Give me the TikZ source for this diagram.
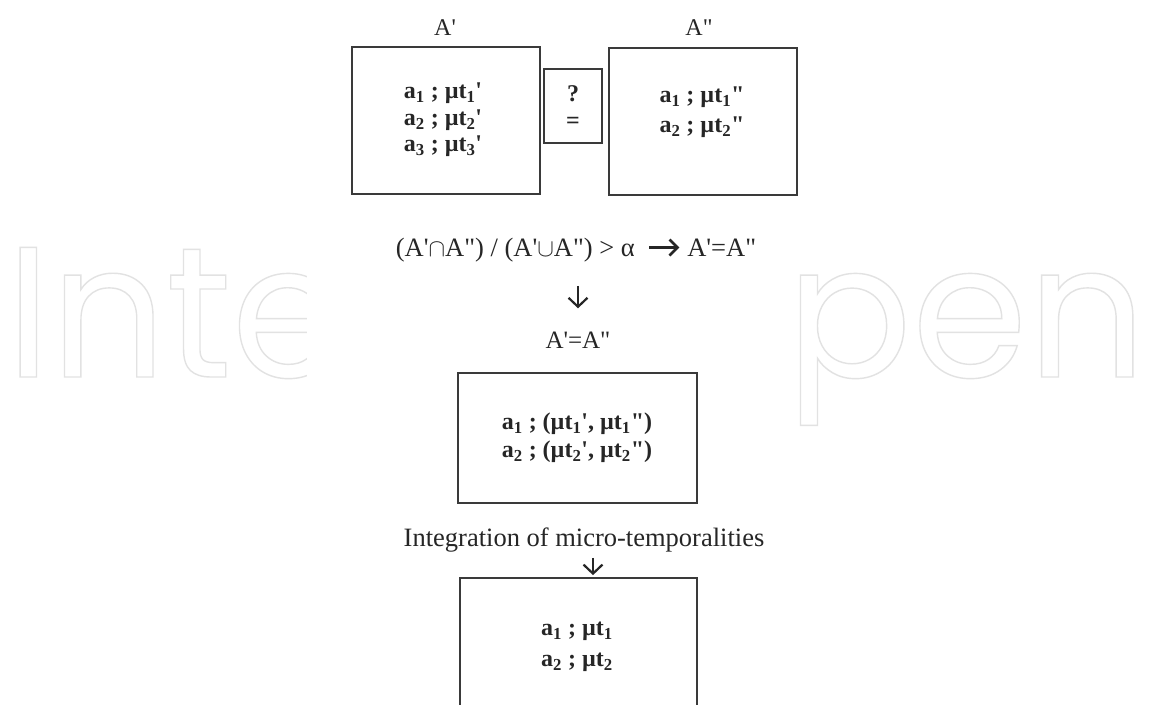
\documentclass[tikz,border=0pt]{standalone}
\usepackage{fontspec}
\setmainfont{Liberation Serif}
\newfontfamily\wmfont{Poppins}
\usetikzlibrary{arrows.meta}
\newcommand\myq{\textquotesingle}
\newcommand\myqq{\textquotedbl}
\newcommand\mysub[1]{\textsubscript{#1}}
\newcommand\outlinetext[1]{\special{pdf:literal direct 1 Tr 1.4 w}#1\special{pdf:literal direct 0 Tr}}
\definecolor{ink}{HTML}{262626}
\definecolor{boxc}{HTML}{3A3A3A}
\definecolor{wmc}{HTML}{E2E2E2}
\newcommand\rarr{\tikz[baseline=-0.32em]\draw[ink,line width=2.6pt,-{Straight Barb[length=8pt,width=16pt,line width=2.6pt]}] (0,0)--(30pt,0);}
\begin{document}
\begin{tikzpicture}[x=1pt,y=-1pt,
  box/.style={draw=boxc,line width=1.8pt,inner sep=0pt,fill=white},
  lbl/.style={text=ink,font=\fontsize{24}{28}\selectfont,inner sep=0pt,anchor=base},
  body/.style={text=ink,font=\fontsize{24}{26.5}\selectfont\bfseries,align=center,inner sep=0pt},
  darr/.style={draw=ink,line width=2.2pt,-{Straight Barb[length=9pt,width=19pt,line width=2.2pt]}},
  wm/.style={font=\fontsize{186}{186}\selectfont\wmfont,inner sep=0pt,anchor=base west,text=wmc}]
\useasboundingbox (0,0) rectangle (1151,704);
\clip (0,0) rectangle (1151,704);
\fill[white] (0,0) rectangle (1151,704);
% watermark
\node[wm,xscale=0.97] (wmA) at (6,377) {\outlinetext{Inte}};
\node[wm] (wmB) at (786,377) {\outlinetext{pen}};
\fill[white] (307,0) rectangle (790,704);
% top row
\node[lbl] (lA1) at (445,35) {A\myq};
\node[lbl] (lA2) at (699,35) {A\myqq};
\node[box,minimum width=188pt,minimum height=147pt] (bA1) at (446,120.5) {};
\node[body] (tA1) at (443,120) {a\mysub{1} ; µt\mysub{1}\myq\\a\mysub{2} ; µt\mysub{2}\myq\\a\mysub{3} ; µt\mysub{3}\myq};
\node[box,minimum width=58pt,minimum height=74pt] (bQ) at (573,106) {};
\node[body] (tQ) at (573,107) {?\\=};
\node[box,minimum width=188pt,minimum height=147pt] (bA2) at (703,121.5) {};
\node[body,font=\fontsize{24}{30}\selectfont\bfseries] (tA2) at (702,112) {a\mysub{1} ; µt\mysub{1}\myqq\\a\mysub{2} ; µt\mysub{2}\myqq};
% formula
\node[lbl,font=\fontsize{26.5}{30}\selectfont] (form) at (576,256) {(A\myq$\cap$A\myqq) / (A\myq$\cup$A\myqq) > α \ \rarr\ A\myq=A\myqq};
\node[lbl,font=\fontsize{25}{28}\selectfont] (eq) at (578,348) {A\myq=A\myqq};
\draw[darr,shorten <=24pt,shorten >=23pt] (form.south -| eq.south) -- (eq.north);
% middle box
\node[box,minimum width=239pt,minimum height=130pt] (bM) at (577.5,438) {};
\node[body,font=\fontsize{24}{28}\selectfont\bfseries] (tM) at (577,438) {a\mysub{1} ; (µt\mysub{1}\myq, µt\mysub{1}\myqq)\\a\mysub{2} ; (µt\mysub{2}\myq, µt\mysub{2}\myqq)};
% integration
\node[lbl,font=\fontsize{26.5}{30}\selectfont] (integ) at (584,546) {Integration of micro-temporalities};
\coordinate (ax) at (593,0);
\node[box,minimum width=237pt,minimum height=160pt] (bB) at (578.5,658) {};
\node[body,font=\fontsize{24}{31}\selectfont\bfseries] (tB) at (577,647) {a\mysub{1} ; µt\mysub{1}\\a\mysub{2} ; µt\mysub{2}};
\draw[darr,shorten <=6pt,shorten >=2pt] (integ.south -| ax) -- (bB.north -| ax);
\end{tikzpicture}
\end{document}
